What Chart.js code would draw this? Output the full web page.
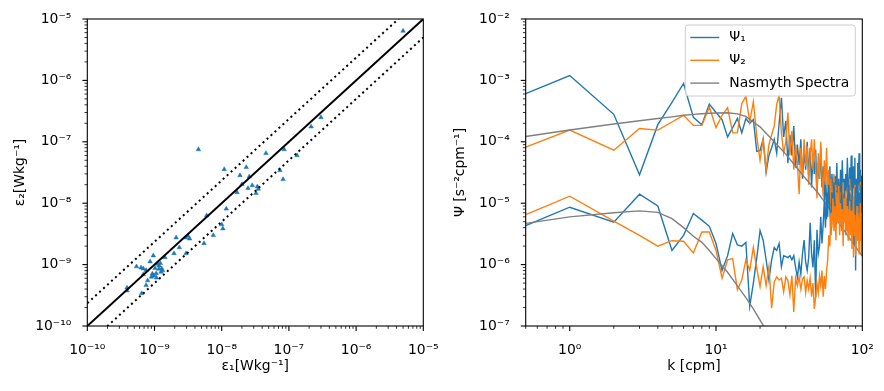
<!DOCTYPE html>
<html lang="en">
<head>
  <meta charset="UTF-8">
  <title>dissipation comparison and shear spectra</title>
  <script src="https://cdn.jsdelivr.net/npm/chart.js"></script>
  <style>
    body { margin: 0; background: #fff; }
    #wrap { position: relative; width: 884px; height: 391px; }
    canvas { position: absolute; top: 0; }
    #epsChart { left: 0; }
    #specChart { left: 440px; }
  </style>
</head>
<body>
<div id="wrap">
  <canvas id="epsChart" width="452" height="391"></canvas>
  <canvas id="specChart" width="444" height="391"></canvas>
</div>

<script>
  // left panel: epsilon from probe 1 vs probe 2
  const eps1 = [5.0e-6, 3.0e-7, 2.14e-7, 4.5e-9, 4.56e-8, 8.5e-8, 1.32e-7, 1.09e-8, 2.32e-8, 1.87e-8,
    2.57e-8, 7.36e-8, 8.2e-8, 2.0e-8, 2.85e-8, 2.46e-8, 3.39e-8, 3.5e-8, 3.24e-8, 1.69e-8,
    1.17e-8, 5.97e-9, 1.0e-8, 1.04e-8, 7.5e-9, 5.45e-9, 2.1e-9, 2.9e-9, 3.15e-9, 3.33e-9,
    2.34e-9, 1.95e-9, 2.95e-9, 9.6e-10, 1.43e-9, 8.6e-10, 1.12e-9, 1.22e-9, 1.17e-9, 5.4e-10,
    6.3e-10, 6.8e-10, 1.02e-9, 1.16e-9, 1.28e-9, 7.5e-10, 9.3e-10, 9.8e-10, 9.0e-10, 1.06e-9,
    1.25e-9, 1.32e-9, 1.07e-9, 7.9e-10, 7.5e-10, 3.9e-10, 3.9e-10, 6.45e-10, 6.8e-10]
  const eps2 = [6.4e-6, 2.5e-7, 1.76e-7, 7.5e-8, 6.5e-8, 7.5e-8, 6.0e-8, 3.56e-8, 3.84e-8, 2.84e-8,
    2.7e-8, 3.43e-8, 2.45e-8, 2.03e-8, 1.95e-8, 1.75e-8, 1.86e-8, 1.70e-8, 1.45e-8, 1.50e-8,
    8.1e-9, 6.3e-9, 4.5e-9, 3.85e-9, 3.0e-9, 2.22e-9, 2.75e-9, 2.75e-9, 2.92e-9, 2.64e-9,
    1.9e-9, 1.52e-9, 1.52e-9, 1.4e-9, 1.31e-9, 1.12e-9, 1.02e-9, 1.05e-9, 9.6e-10, 9.3e-10,
    8.9e-10, 8.6e-10, 8.7e-10, 8.5e-10, 8.6e-10, 8.1e-10, 7.1e-10, 6.6e-10, 6.3e-10, 7.2e-10,
    7.6e-10, 8.0e-10, 6.1e-10, 5.5e-10, 4.6e-10, 4.2e-10, 3.76e-10, 3.4e-10, 6.9e-10]
  const epsRange = [1e-10, 1e-5]
  const upperFactor = 2.35
  const lowerFactor = 0.5

  // right panel: shear spectra, two depths
  const kValues = [0.5, 1, 2, 3, 4, 5, 6, 7, 8, 9, 10,
    11, 12, 13, 14, 15, 16, 17, 18, 19, 20,
    21, 22, 23, 24, 25, 26, 27, 28, 29, 30,
    31, 32, 33, 34, 35, 36, 37, 38, 39, 40,
    41, 42, 43, 44, 45, 46, 47, 48, 49, 50,
    51, 52, 53, 54, 55, 56, 57, 58, 59, 60,
    61, 62, 63, 64, 65, 66, 67, 68, 69, 70,
    71, 72, 73, 74, 75, 76, 77, 78, 79, 80,
    81, 82, 83, 84, 85, 86, 87, 88, 89, 90,
    91, 92, 93, 94, 95, 96, 97, 98, 99, 100]
  const psi1High = [6.1e-4, 1.2e-3, 2.8e-4, 2.9e-5, 1.9e-4, 4.4e-4, 8.9e-4, 2.5e-4, 1.9e-4, 4.1e-4, 3.0e-4,
    2.3e-4, 1.2e-4, 1.7e-4, 2.4e-4, 1.4e-4, 2.4e-4, 2.0e-4, 2.3e-4, 7.0e-5, 7.2e-5,
    1.1e-4, 3.2e-5, 6.0e-5, 8.0e-5, 1.1e-4, 6.5e-5, 2.0e-4, 5.2e-4, 1.2e-4, 2.2e-4,
    4.5e-5, 1.3e-4, 6.0e-5, 1.8e-4, 3.8e-5, 9.0e-5, 4.2e-5, 1.1e-4, 2.5e-5, 7.0e-5,
    3.5e-5, 1.0e-4, 2.8e-5, 8.0e-5, 1.8e-5, 6.0e-5, 3.0e-5, 7.5e-5, 1.5e-5, 4.5e-5,
    2.5e-5, 8.0e-5, 1.8e-5, 4.0e-5, 1.1e-5, 3.0e-5, 5.5e-6, 2.5e-5, 1.2e-5, 4.0e-5,
    9.0e-6, 3.0e-5, 1.5e-5, 6.0e-6, 2.8e-5, 1.3e-5, 4.5e-5, 8.0e-6, 2.2e-5, 1.0e-5,
    3.5e-5, 1.4e-5, 5.0e-5, 1.2e-5, 2.5e-5, 7.0e-6, 3.0e-5, 1.5e-5, 5.5e-5, 2.0e-5,
    1.0e-5, 3.8e-5, 1.6e-5, 6.0e-5, 2.2e-5, 1.2e-5, 4.0e-5, 1.8e-5, 5.5e-5, 8.0e-7,
    2.5e-5, 1.5e-5, 4.5e-5, 2.0e-5, 6.5e-5, 1.6e-5, 3.5e-5, 1.2e-5, 2.8e-5, 1.5e-5]
  const psi2High = [8.2e-5, 1.55e-4, 7.3e-5, 1.65e-4, 1.55e-4, 2.1e-4, 2.7e-4, 1.85e-4, 1.85e-4, 3.7e-4, 1.7e-4,
    2.7e-4, 3.6e-4, 1.4e-4, 1.4e-4, 4.2e-4, 5.5e-4, 2.1e-4, 4.5e-4, 1.2e-4, 5.0e-5,
    1.1e-4, 3.5e-5, 9.0e-5, 1.3e-4, 1.8e-4, 4.1e-4, 5.7e-4, 1.4e-4, 6.5e-5, 1.0e-4,
    3.0e-4, 6.0e-5, 1.5e-4, 3.5e-5, 9.0e-5, 4.5e-5, 1.4e-5, 8.0e-5, 3.0e-5, 1.1e-4,
    4.0e-5, 8.5e-5, 2.0e-5, 6.0e-5, 1.1e-4, 3.5e-5, 1.1e-4, 4.0e-5, 1.2e-5, 6.5e-5,
    2.5e-5, 1.0e-4, 3.0e-5, 1.3e-5, 5.0e-5, 2.0e-5, 8.0e-5, 1.5e-5, 3.5e-5, 8.0e-6,
    2.5e-5, 5.5e-6, 1.6e-5, 3.0e-5, 7.0e-6, 2.0e-5, 4.5e-6, 1.2e-5, 2.5e-5, 6.0e-6,
    1.5e-5, 3.5e-6, 1.0e-5, 2.2e-5, 5.0e-6, 1.3e-5, 3.0e-6, 8.0e-6, 1.8e-5, 4.0e-6,
    1.1e-5, 2.5e-5, 5.5e-6, 1.4e-5, 3.0e-6, 9.0e-6, 1.3e-6, 6.0e-6, 2.0e-5, 4.0e-6,
    1.2e-5, 2.5e-6, 8.0e-6, 1.6e-5, 3.5e-6, 1.0e-5, 2.2e-5, 5.0e-6, 1.5e-6, 1.2e-5]
  const psi1Low = [4.3e-6, 8.6e-6, 4.9e-6, 1.4e-5, 9.0e-6, 1.7e-6, 3.0e-6, 6.8e-6, 5.3e-6, 4.2e-6, 2.2e-6,
    8.0e-7, 1.4e-6, 3.2e-6, 2.1e-6, 2.0e-6, 2.3e-6, 2.1e-7, 5.0e-7, 1.3e-6, 3.6e-6,
    2.5e-6, 1.2e-6, 5.6e-7, 1.2e-6, 1.9e-6, 1.7e-6, 2.2e-6, 9.3e-7, 1.4e-6, 1.35e-6,
    1.3e-6, 1.4e-6, 1.2e-6, 1.4e-6, 9.0e-7, 6.2e-7, 1.1e-6, 7.0e-7, 1.5e-6, 2.5e-6,
    1.1e-6, 8.0e-7, 1.3e-6, 4.8e-6, 1.5e-6, 9.0e-7, 2.5e-6, 2.9e-7, 3.7e-6, 1.5e-6,
    2.0e-6, 6.0e-6, 2.2e-6, 4.5e-6, 1.1e-5, 4.0e-6, 1.4e-5, 6.0e-6, 2.0e-5, 8.0e-6,
    3.0e-6, 1.5e-5, 7.0e-6, 2.2e-5, 9.0e-6, 4.0e-6, 1.6e-5, 8.0e-6, 2.5e-5, 1.0e-5,
    5.0e-6, 1.8e-5, 9.0e-6, 3.0e-6, 1.4e-5, 2.4e-5, 7.0e-6, 1.2e-5, 4.5e-6, 2.0e-5,
    8.0e-6, 1.5e-5, 3.5e-6, 1.1e-5, 2.6e-5, 6.0e-6, 1.3e-5, 2.2e-6, 9.0e-6, 1.8e-5,
    5.0e-6, 1.2e-5, 2.8e-5, 7.0e-6, 1.5e-5, 3.0e-6, 1.1e-5, 2.0e-5, 6.0e-6, 1.3e-5]
  const psi2Low = [6.5e-6, 1.3e-5, 5.1e-6, 3.0e-6, 2.0e-6, 2.45e-6, 2.4e-6, 1.55e-6, 3.4e-6, 3.4e-6, 1.7e-6,
    6.0e-7, 1.2e-6, 1.25e-6, 3.9e-7, 5.6e-7, 1.2e-6, 8.1e-7, 1.9e-6, 8.6e-7, 4.4e-7,
    9.3e-7, 4.6e-7, 9.3e-7, 1.95e-7, 5.2e-7, 6.3e-7, 5.6e-7, 6.0e-7, 3.6e-7, 6.3e-7,
    5.5e-7, 3.2e-7, 6.6e-7, 1.7e-7, 6.0e-7, 4.5e-7, 6.3e-7, 4.0e-7, 5.8e-7, 6.3e-7,
    3.5e-7, 5.5e-7, 4.0e-7, 6.0e-7, 3.0e-7, 5.0e-7, 1.9e-7, 3.0e-7, 5.0e-7, 3.5e-7,
    6.5e-7, 4.5e-7, 8.0e-7, 3.0e-7, 6.5e-7, 4.0e-7, 8.0e-7, 1.2e-6, 3.0e-6, 2.0e-6,
    7.0e-6, 4.0e-6, 1.2e-5, 3.5e-6, 9.0e-6, 2.5e-6, 1.5e-5, 5.0e-6, 1.9e-5, 3.0e-6,
    1.0e-5, 4.5e-6, 8.0e-6, 2.0e-6, 1.2e-5, 5.0e-6, 1.6e-5, 3.5e-6, 9.0e-6, 2.5e-6,
    6.0e-6, 1.1e-5, 3.0e-6, 7.5e-6, 1.8e-6, 5.0e-6, 1.3e-5, 3.0e-6, 6.5e-6, 1.4e-6,
    4.0e-6, 9.0e-6, 2.5e-6, 6.0e-6, 1.5e-6, 4.5e-6, 1.0e-5, 2.5e-6, 7.0e-6, 4.0e-6]
  const nasmythK = [0.5, 1, 2, 3, 4, 5, 6, 7, 8, 9, 10, 12, 14, 16, 18, 20, 22, 25, 30, 35, 40, 50, 60, 70, 80, 90, 100]
  const nasmythHigh = [1.22e-4, 1.56e-4, 1.95e-4, 2.2e-4, 2.4e-4, 2.55e-4, 2.7e-4, 2.8e-4, 2.87e-4, 2.92e-4, 2.95e-4,
    2.97e-4, 2.85e-4, 2.6e-4, 2.1e-4, 1.75e-4, 1.38e-4, 1.0e-4, 6.3e-5, 4.0e-5, 2.7e-5, 1.45e-5, 8.0e-6, 4.6e-6, 2.9e-6, 1.95e-6, 1.38e-6]
  const nasmythLowK = [0.5, 1, 2, 3, 4, 5, 6, 7, 8, 9, 10, 12, 14, 16, 18, 20, 22, 25, 30]
  const nasmythLow = [4.7e-6, 6.0e-6, 7.0e-6, 7.5e-6, 7.1e-6, 5.6e-6, 4.0e-6, 2.9e-6, 2.3e-6, 1.7e-6, 1.25e-6,
    7.5e-7, 4.5e-7, 2.9e-7, 1.9e-7, 1.25e-7, 8.5e-8, 5.5e-8, 2.8e-8]

  const blue = '#1f77b4'
  const orange = '#ff7f0e'
  const grey = '#808080'

  Chart.defaults.font.family = '"DejaVu Sans"'
  Chart.defaults.font.size = 13.9
  Chart.defaults.color = '#000'

  const supDigits = { '-': '\u207b', '0': '\u2070', '1': '\u00b9', '2': '\u00b2', '3': '\u00b3',
    '4': '\u2074', '5': '\u2075', '6': '\u2076', '7': '\u2077', '8': '\u2078', '9': '\u2079' }

  function powerLabel(v) {
    const e = Math.round(Math.log10(v))
    if (Math.abs(Math.log10(v) - e) > 1e-6) return ''
    return '10' + String(e).split('').map(c => supDigits[c]).join('')
  }

  function toPoints(xs, ys) {
    return xs.map((x, i) => ({ x: x, y: ys[i] }))
  }

  // matplotlib-like frame: box spines, major/minor log ticks pointing out
  const frame = {
    id: 'frame',
    afterDraw(chart) {
      const { ctx, chartArea: a } = chart
      ctx.save()
      ctx.strokeStyle = '#000'
      for (const id of ['x', 'y']) {
        const s = chart.scales[id]
        const lo = Math.floor(Math.log10(s.min))
        const hi = Math.ceil(Math.log10(s.max))
        for (let e = lo; e <= hi; e++) {
          for (let m = 1; m <= 9; m++) {
            const v = m * Math.pow(10, e)
            if (v < s.min * 0.999 || v > s.max * 1.001) continue
            const major = m === 1
            const len = major ? 4.9 : 2.8
            const p = s.getPixelForValue(v)
            ctx.lineWidth = major ? 1.1 : 0.8
            ctx.beginPath()
            if (id === 'x') {
              ctx.moveTo(p, a.bottom)
              ctx.lineTo(p, a.bottom + len)
            } else {
              ctx.moveTo(a.left, p)
              ctx.lineTo(a.left - len, p)
            }
            ctx.stroke()
          }
        }
      }
      ctx.lineWidth = 1.1
      ctx.strokeRect(a.left, a.top, a.right - a.left, a.bottom - a.top)
      ctx.restore()
    }
  }

  // legend box drawn inside the plot, upper right
  const insideLegend = {
    id: 'insideLegend',
    afterDraw(chart) {
      const { ctx, chartArea: a } = chart
      const items = chart.data.datasets.filter(d => d.label)
      const w = 170
      const h = 71
      const x0 = a.right - 7 - w
      const y0 = a.top + 6
      ctx.save()
      ctx.fillStyle = 'rgba(255,255,255,0.8)'
      ctx.strokeStyle = '#cccccc'
      ctx.lineWidth = 1
      ctx.beginPath()
      ctx.roundRect(x0, y0, w, h, 3)
      ctx.fill()
      ctx.stroke()
      ctx.font = '13.9px "DejaVu Sans"'
      ctx.textBaseline = 'middle'
      ctx.fillStyle = '#000'
      items.forEach((d, i) => {
        const y = y0 + 12.5 + i * 22.8
        ctx.strokeStyle = d.borderColor
        ctx.lineWidth = d.borderWidth
        ctx.beginPath()
        ctx.moveTo(x0 + 5, y)
        ctx.lineTo(x0 + 34, y)
        ctx.stroke()
        ctx.fillText(d.label, x0 + 44, y)
      })
      ctx.restore()
    }
  }

  function logAxis(min, max, title, size, titlePad) {
    return {
      type: 'logarithmic',
      min: min,
      max: max,
      grid: { display: false },
      border: { display: false },
      ticks: {
        autoSkip: false,
        maxRotation: 0,
        padding: 8,
        callback: v => powerLabel(v)
      },
      title: { display: true, text: title, padding: titlePad },
      afterFit: s => {
        if (s.isHorizontal()) s.height = size
        else s.width = size
      }
    }
  }

  new Chart(document.getElementById('epsChart'), {
    type: 'scatter',
    data: {
      datasets: [
        {
          data: toPoints(eps1, eps2),
          pointStyle: 'triangle',
          pointRadius: 2.6,
          pointBackgroundColor: blue,
          pointBorderColor: blue,
          pointBorderWidth: 0.5,
          order: 2
        },
        {
          type: 'line',
          data: toPoints(epsRange, epsRange),
          borderColor: '#000',
          borderWidth: 2,
          pointRadius: 0,
          order: 1
        },
        {
          type: 'line',
          data: toPoints(epsRange, epsRange.map(v => v * upperFactor)),
          borderColor: '#000',
          borderWidth: 2,
          borderDash: [2, 3.4],
          pointRadius: 0,
          order: 1
        },
        {
          type: 'line',
          data: toPoints(epsRange, epsRange.map(v => v * lowerFactor)),
          borderColor: '#000',
          borderWidth: 2,
          borderDash: [2, 3.4],
          pointRadius: 0,
          order: 1
        }
      ]
    },
    options: {
      responsive: false,
      animation: false,
      layout: { padding: { top: 19, right: 28.7, left: 0, bottom: 0 } },
      plugins: { legend: { display: false }, tooltip: { enabled: false } },
      scales: {
        x: logAxis(epsRange[0], epsRange[1], '\u03b5\u2081[Wkg\u207b\u00b9]', 65, { top: 0, bottom: 16 }),
        y: logAxis(epsRange[0], epsRange[1], '\u03b5\u2082[Wkg\u207b\u00b9]', 87.3, { top: 12.5, bottom: 0 })
      }
    },
    plugins: [frame]
  })

  const lineStyle = { pointRadius: 0, borderWidth: 1.4, fill: false }

  new Chart(document.getElementById('specChart'), {
    type: 'line',
    data: {
      datasets: [
        { ...lineStyle, label: '\u03a8\u2081', data: toPoints(kValues, psi1High), borderColor: blue, order: 6 },
        { ...lineStyle, label: '\u03a8\u2082', data: toPoints(kValues, psi2High), borderColor: orange, order: 5 },
        { ...lineStyle, label: 'Nasmyth Spectra', data: toPoints(nasmythK, nasmythHigh), borderColor: grey, order: 4 },
        { ...lineStyle, data: toPoints(kValues, psi1Low), borderColor: blue, order: 3 },
        { ...lineStyle, data: toPoints(kValues, psi2Low), borderColor: orange, order: 2 },
        { ...lineStyle, data: toPoints(nasmythLowK, nasmythLow), borderColor: grey, order: 1 }
      ]
    },
    options: {
      responsive: false,
      animation: false,
      layout: { padding: { top: 19, right: 21.7, left: 0, bottom: 0 } },
      plugins: { legend: { display: false }, tooltip: { enabled: false } },
      scales: {
        x: logAxis(0.5, 100, 'k [cpm]', 65, { top: 0, bottom: 16 }),
        y: logAxis(1e-7, 1e-2, '\u03a8 [s\u207b\u00b2cpm\u207b\u00b9]', 85.7, { top: 12.5, bottom: 0 })
      }
    },
    plugins: [frame, insideLegend]
  })
</script>
</body>
</html>
